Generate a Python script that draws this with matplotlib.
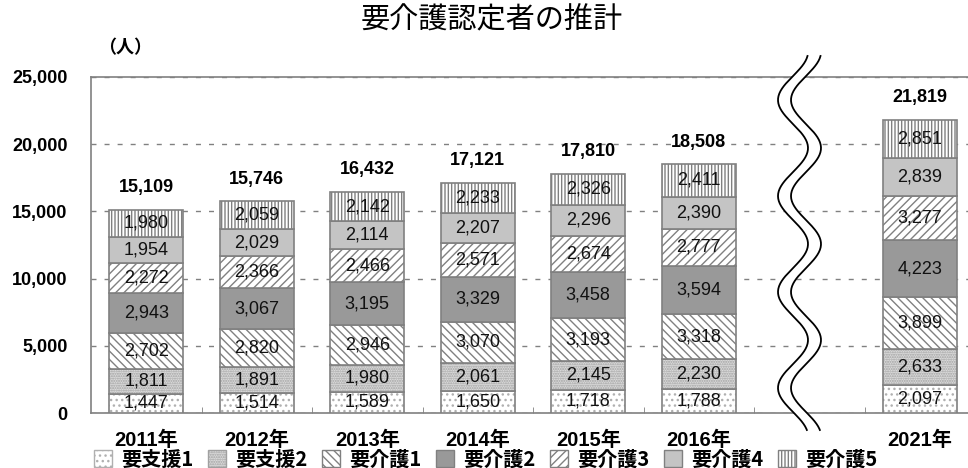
import numpy as np
import matplotlib
matplotlib.use('Agg')
import matplotlib.pyplot as plt
from matplotlib.patches import Patch, Polygon

plt.rcParams['font.family'] = ['Liberation Sans', 'Noto Sans CJK JP']
plt.rcParams['hatch.linewidth'] = 1.0

# data
years = ['2011年', '2012年', '2013年', '2014年', '2015年', '2016年', '2021年']
slots = [0, 1, 2, 3, 4, 5, 7]  # slot 6 is the break
levels = ['要支援1', '要支援2', '要介護1', '要介護2', '要介護3', '要介護4', '要介護5']
shien1 = [1447, 1514, 1589, 1650, 1718, 1788, 2097]
shien2 = [1811, 1891, 1980, 2061, 2145, 2230, 2633]
kaigo1 = [2702, 2820, 2946, 3070, 3193, 3318, 3899]
kaigo2 = [2943, 3067, 3195, 3329, 3458, 3594, 4223]
kaigo3 = [2272, 2366, 2466, 2571, 2674, 2777, 3277]
kaigo4 = [1954, 2029, 2114, 2207, 2296, 2390, 2839]
kaigo5 = [1980, 2059, 2142, 2233, 2326, 2411, 2851]
series = [shien1, shien2, kaigo1, kaigo2, kaigo3, kaigo4, kaigo5]

# fill / hatch / hatch colour per level
styles = [
    ('white', '...', '#b0b0b0'),
    ('#dcdcdc', '.......', '#a0a0a0'),
    ('white', '\\\\\\\\', '#808080'),
    ('#999999', None, '#808080'),
    ('white', '////', '#808080'),
    ('#c4c4c4', None, '#808080'),
    ('white', '|||||', '#808080'),
]
edge = '#808080'

W, H = 968, 468
fig = plt.figure(figsize=(W / 100, H / 100), dpi=100)
ax = fig.add_axes([91 / W, 1 - 413 / H, 884 / W, 336 / H])

bottom = np.zeros(len(slots))
for vals, (fc, hatch, hc) in zip(series, styles):
    # fill with hatch (hatch takes the edge colour), then a plain gray outline
    ax.bar(slots, vals, width=0.67, bottom=bottom, facecolor=fc, edgecolor=hc,
           hatch=hatch, linewidth=0, zorder=3)
    ax.bar(slots, vals, width=0.67, bottom=bottom, facecolor='none', edgecolor=edge,
           linewidth=1.2, zorder=3)
    for x, b, v in zip(slots, bottom, vals):
        ax.text(x, b + v / 2, f'{v:,}', ha='center', va='center', fontsize=13,
                color='#111111', zorder=4)
    bottom += vals

for x, t in zip(slots, bottom):
    ax.annotate(f'{int(t):,}', (x, t), xytext=(0, 16), textcoords='offset points',
                ha='center', va='center', fontsize=13, fontweight='bold')

ax.set_xlim(-0.5, 7.5)
ax.set_ylim(0, 25000)
ax.set_yticks(range(0, 25001, 5000))
ax.set_yticklabels([f'{v:,}' for v in range(0, 25001, 5000)], fontsize=13,
                   fontweight='bold')
ax.tick_params(axis='y', length=0, pad=17)
ax.set_xticks(slots)
ax.set_xticklabels(years, fontsize=14.5, fontweight='bold')
ax.tick_params(axis='x', which='major', length=0, pad=13)
ax.set_xticks([0.5, 1.5, 2.5, 3.5, 4.5, 5.5, 6.5], minor=True)
ax.tick_params(axis='x', which='minor', direction='in', length=4, color=edge)
ax.yaxis.grid(True, linestyle=(0, (3.6, 5.8)), color=edge, linewidth=1, zorder=0)
for s in ax.spines.values():
    s.set_color(edge)
    s.set_linewidth(1.2)

# axis break wave
yy = np.linspace(56, 430, 300)
xl = 793 - 15 * np.cos(2 * np.pi * (yy - 100) / 96)
xr = xl + 13
to_fig = lambda px, py: np.column_stack([px / W, 1 - py / H])
fig.patches.append(Polygon(np.vstack([to_fig(xl, yy), to_fig(xr[::-1], yy[::-1])]),
                           closed=True, facecolor='white', edgecolor='none',
                           transform=fig.transFigure, zorder=5))
for xs in (xl, xr):
    pts = to_fig(xs, yy)
    fig.lines.append(plt.Line2D(pts[:, 0], pts[:, 1], color='black', lw=1.3,
                                transform=fig.transFigure, zorder=6))

fig.text(492 / W, 1 - 20 / H, '要介護認定者の推計', ha='center', va='center',
         fontsize=21, family='Noto Sans CJK JP')
fig.text(125 / W, 1 - 48 / H, '（人）', ha='center', va='center', fontsize=13,
         fontweight='bold', family='Noto Sans CJK JP')

handles = [Patch(facecolor=fc, edgecolor=hc, hatch=h) for fc, h, hc in styles]
fig.legend(handles, levels, loc='center left', bbox_to_anchor=(84 / W, 1 - 459 / H),
           ncol=7, frameon=False, handlelength=0.9, handleheight=0.9,
           handletextpad=0.45, columnspacing=0.72, borderpad=0,
           prop={'family': 'Noto Sans CJK JP', 'weight': 'bold', 'size': 14.5})

fig.savefig('out.png', dpi=100)
